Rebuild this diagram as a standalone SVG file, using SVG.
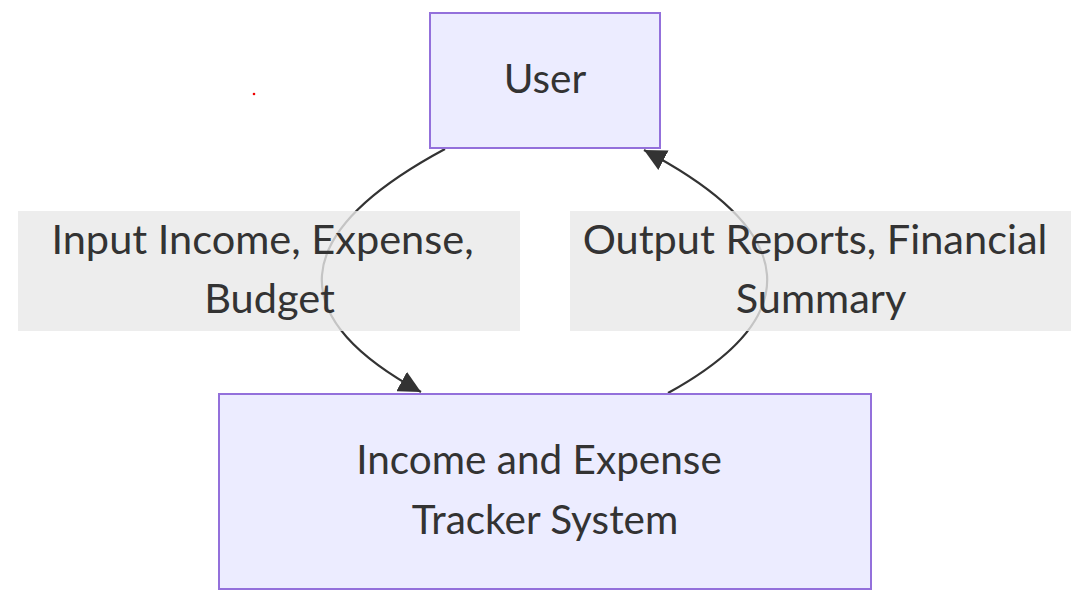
<svg xmlns="http://www.w3.org/2000/svg" width="1078" height="599" viewBox="0 0 1078 599">
<style>
.node rect{fill:#ECECFF;stroke:#9370DB;stroke-width:2}
.lbl rect{fill:rgba(232,232,232,0.8)}
text{font-family:Lato,"Open Sans","DejaVu Sans",sans-serif;font-size:40.5px;fill:#333;text-anchor:middle}
.lbl text{font-size:41.5px}
.edge{fill:none;stroke:#333;stroke-width:2.2}
</style>
<defs>
<marker id="arrow" markerUnits="userSpaceOnUse" viewBox="0 0 10 10" refX="10" refY="5" markerWidth="22" markerHeight="22" orient="auto">
<path d="M0,0 L10,5 L0,10 z" fill="#333"/>
</marker>
</defs>
<rect width="1078" height="599" fill="#fff"/>
<circle cx="254" cy="94" r="1.3" fill="#e00"/>
<g id="connectors">
<path class="edge" d="M445,149 C285,235 285,318 421,392" marker-end="url(#arrow)"/>
<path class="edge" d="M668,393 C804,318 804,234 644,150" marker-end="url(#arrow)"/>
</g>
<g id="label-input" class="lbl">
<rect x="18" y="211" width="502" height="120"/>
<text x="262.5" y="254">Input Income, Expense,</text>
<text x="269.5" y="313">Budget</text>
</g>
<g id="label-output" class="lbl">
<rect x="570" y="211" width="501" height="120"/>
<text x="815" y="254">Output Reports, Financial</text>
<text x="821" y="313">Summary</text>
</g>
<g id="user" class="node">
<rect x="430" y="13" width="230" height="135"/>
<text x="545" y="93">User</text>
</g>
<g id="system" class="node">
<rect x="219" y="394" width="652" height="195"/>
<text x="539" y="474">Income and Expense</text>
<text x="545" y="534">Tracker System</text>
</g>
</svg>
